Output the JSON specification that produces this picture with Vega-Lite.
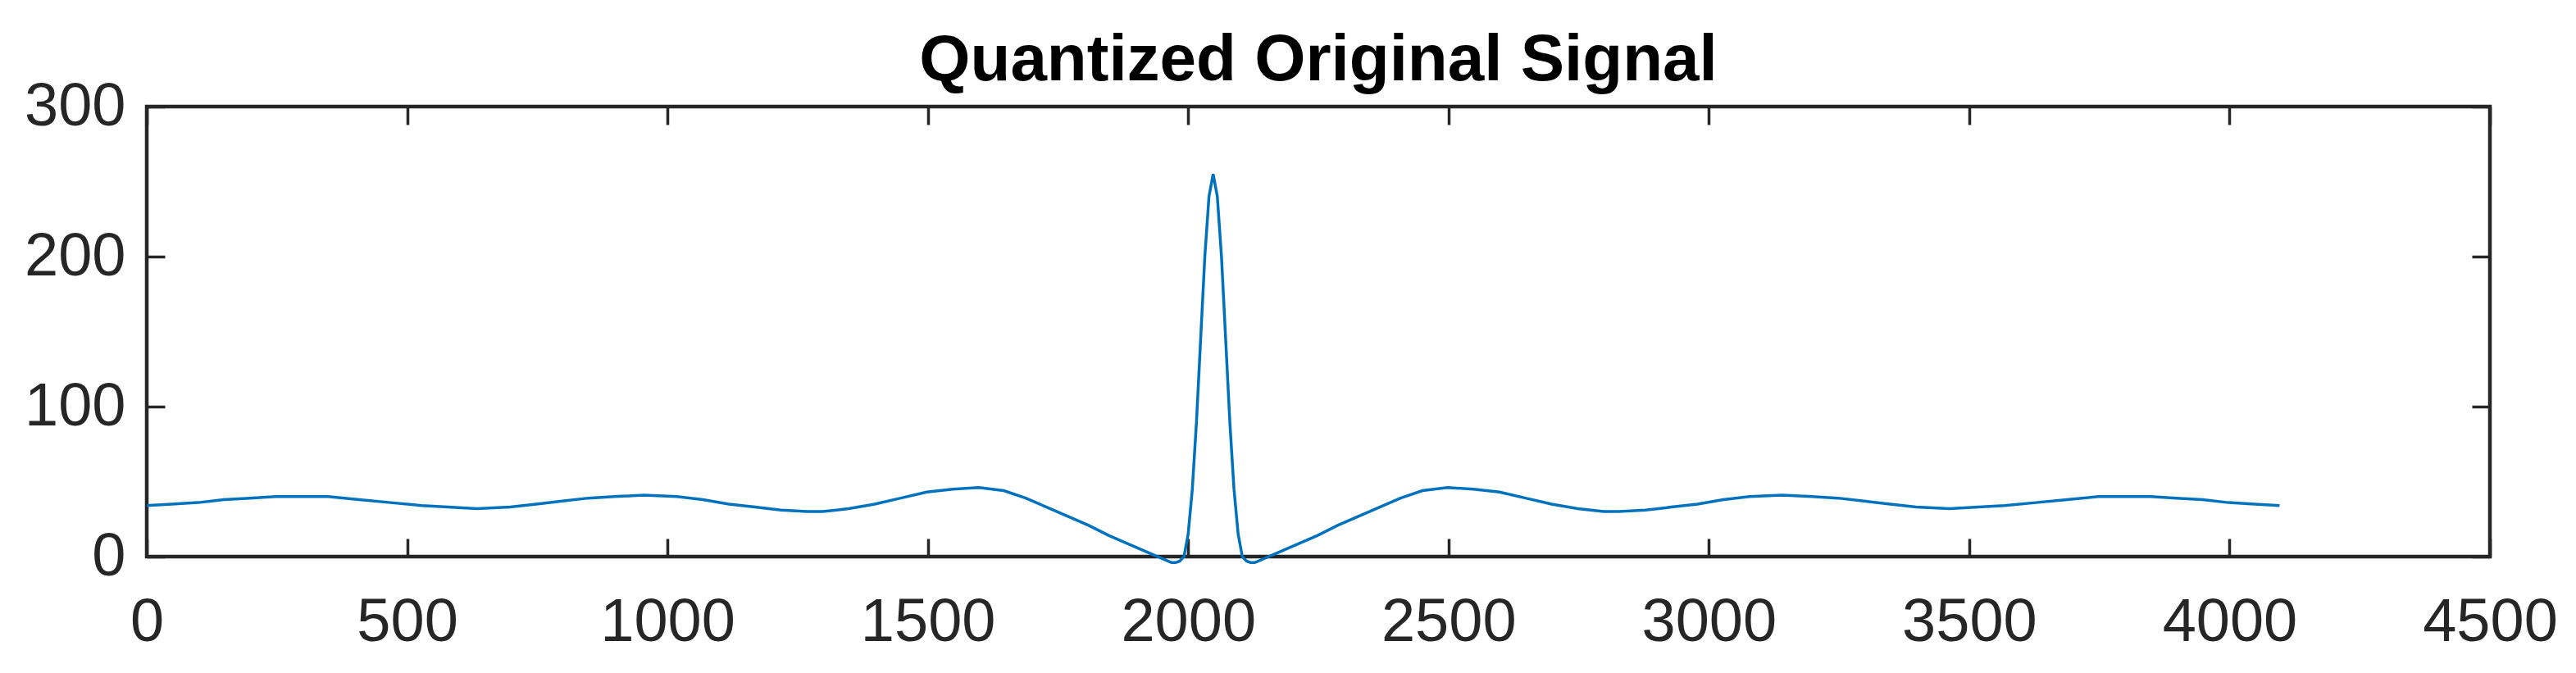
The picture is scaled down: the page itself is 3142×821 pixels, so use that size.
{
  "$schema": "https://vega.github.io/schema/vega-lite/v6.json",
  "width": 2858,
  "height": 549,
  "autosize": "none",
  "padding": {"left": 179, "top": 130, "right": 105, "bottom": 142},
  "background": "white",
  "title": {
    "text": "Quantized Original Signal",
    "font": "Liberation Sans",
    "fontSize": 80,
    "fontWeight": "bold",
    "color": "#000000",
    "anchor": "middle",
    "baseline": "alphabetic",
    "offset": -85
  },
  "config": {
    "view": {"stroke": "#262626", "strokeWidth": 4.5},
    "axis": {
      "domain": false,
      "grid": false,
      "labelFont": "Liberation Sans",
      "labelFontSize": 74,
      "labelColor": "#262626",
      "labelFlush": false,
      "tickColor": "#262626",
      "tickWidth": 3.5,
      "tickSize": -22,
      "format": "d"
    }
  },
  "data": {
    "values": [
      {"n": 0, "v": 34}, {"n": 48, "v": 35}, {"n": 98, "v": 36}, {"n": 148, "v": 38}, {"n": 198, "v": 39},
      {"n": 248, "v": 40}, {"n": 296, "v": 40}, {"n": 348, "v": 40}, {"n": 408, "v": 38}, {"n": 468, "v": 36},
      {"n": 528, "v": 34}, {"n": 578, "v": 33}, {"n": 634, "v": 32}, {"n": 698, "v": 33}, {"n": 748, "v": 35},
      {"n": 798, "v": 37}, {"n": 848, "v": 39}, {"n": 898, "v": 40}, {"n": 955, "v": 41}, {"n": 1018, "v": 40},
      {"n": 1068, "v": 38}, {"n": 1118, "v": 35}, {"n": 1168, "v": 33}, {"n": 1218, "v": 31}, {"n": 1269, "v": 30},
      {"n": 1298, "v": 30}, {"n": 1348, "v": 32}, {"n": 1398, "v": 35}, {"n": 1448, "v": 39}, {"n": 1498, "v": 43},
      {"n": 1548, "v": 45}, {"n": 1598, "v": 46}, {"n": 1646, "v": 44}, {"n": 1688, "v": 39}, {"n": 1728, "v": 33},
      {"n": 1768, "v": 27}, {"n": 1808, "v": 21}, {"n": 1848, "v": 14}, {"n": 1888, "v": 8}, {"n": 1928, "v": 2},
      {"n": 1968, "v": -4}, {"n": 1976, "v": -4}, {"n": 1984, "v": -3}, {"n": 1992, "v": 0}, {"n": 2000, "v": 15},
      {"n": 2008, "v": 45}, {"n": 2016, "v": 90}, {"n": 2024, "v": 145}, {"n": 2032, "v": 200}, {"n": 2040, "v": 240},
      {"n": 2048, "v": 255},
      {"n": 2056, "v": 240}, {"n": 2064, "v": 200}, {"n": 2072, "v": 145}, {"n": 2080, "v": 90}, {"n": 2088, "v": 45},
      {"n": 2096, "v": 15}, {"n": 2104, "v": 0}, {"n": 2112, "v": -3}, {"n": 2120, "v": -4}, {"n": 2128, "v": -4},
      {"n": 2168, "v": 2}, {"n": 2208, "v": 8}, {"n": 2248, "v": 14}, {"n": 2288, "v": 21}, {"n": 2328, "v": 27},
      {"n": 2368, "v": 33}, {"n": 2408, "v": 39}, {"n": 2450, "v": 44}, {"n": 2498, "v": 46}, {"n": 2548, "v": 45},
      {"n": 2598, "v": 43}, {"n": 2648, "v": 39}, {"n": 2698, "v": 35}, {"n": 2748, "v": 32}, {"n": 2798, "v": 30},
      {"n": 2827, "v": 30}, {"n": 2878, "v": 31}, {"n": 2928, "v": 33}, {"n": 2978, "v": 35}, {"n": 3028, "v": 38},
      {"n": 3078, "v": 40}, {"n": 3141, "v": 41}, {"n": 3198, "v": 40}, {"n": 3248, "v": 39}, {"n": 3298, "v": 37},
      {"n": 3348, "v": 35}, {"n": 3398, "v": 33}, {"n": 3462, "v": 32}, {"n": 3518, "v": 33}, {"n": 3568, "v": 34},
      {"n": 3628, "v": 36}, {"n": 3688, "v": 38}, {"n": 3748, "v": 40}, {"n": 3800, "v": 40}, {"n": 3848, "v": 40},
      {"n": 3898, "v": 39}, {"n": 3948, "v": 38}, {"n": 3998, "v": 36}, {"n": 4048, "v": 35}, {"n": 4096, "v": 34}
    ]
  },
  "layer": [
    {
      "mark": {"type": "line", "color": "#0072BD", "strokeWidth": 3.5},
      "encoding": {
        "x": {
          "field": "n", "type": "quantitative",
          "scale": {"domain": [0, 4500], "nice": false, "zero": false},
          "axis": {"orient": "bottom", "title": null, "values": [0, 500, 1000, 1500, 2000, 2500, 3000, 3500, 4000, 4500], "labelPadding": 66}
        },
        "y": {
          "field": "v", "type": "quantitative",
          "scale": {"domain": [0, 300], "nice": false, "zero": false},
          "axis": {"orient": "left", "title": null, "values": [0, 100, 200, 300], "labelPadding": 48}
        }
      }
    },
    {
      "mark": {"type": "line", "opacity": 0},
      "encoding": {
        "x": {
          "field": "n", "type": "quantitative",
          "axis": {"orient": "top", "title": null, "labels": false, "values": [0, 500, 1000, 1500, 2000, 2500, 3000, 3500, 4000, 4500]}
        },
        "y": {
          "field": "v", "type": "quantitative",
          "axis": {"orient": "right", "title": null, "labels": false, "values": [0, 100, 200, 300]}
        }
      }
    }
  ],
  "resolve": {"axis": {"x": "independent", "y": "independent"}}
}
